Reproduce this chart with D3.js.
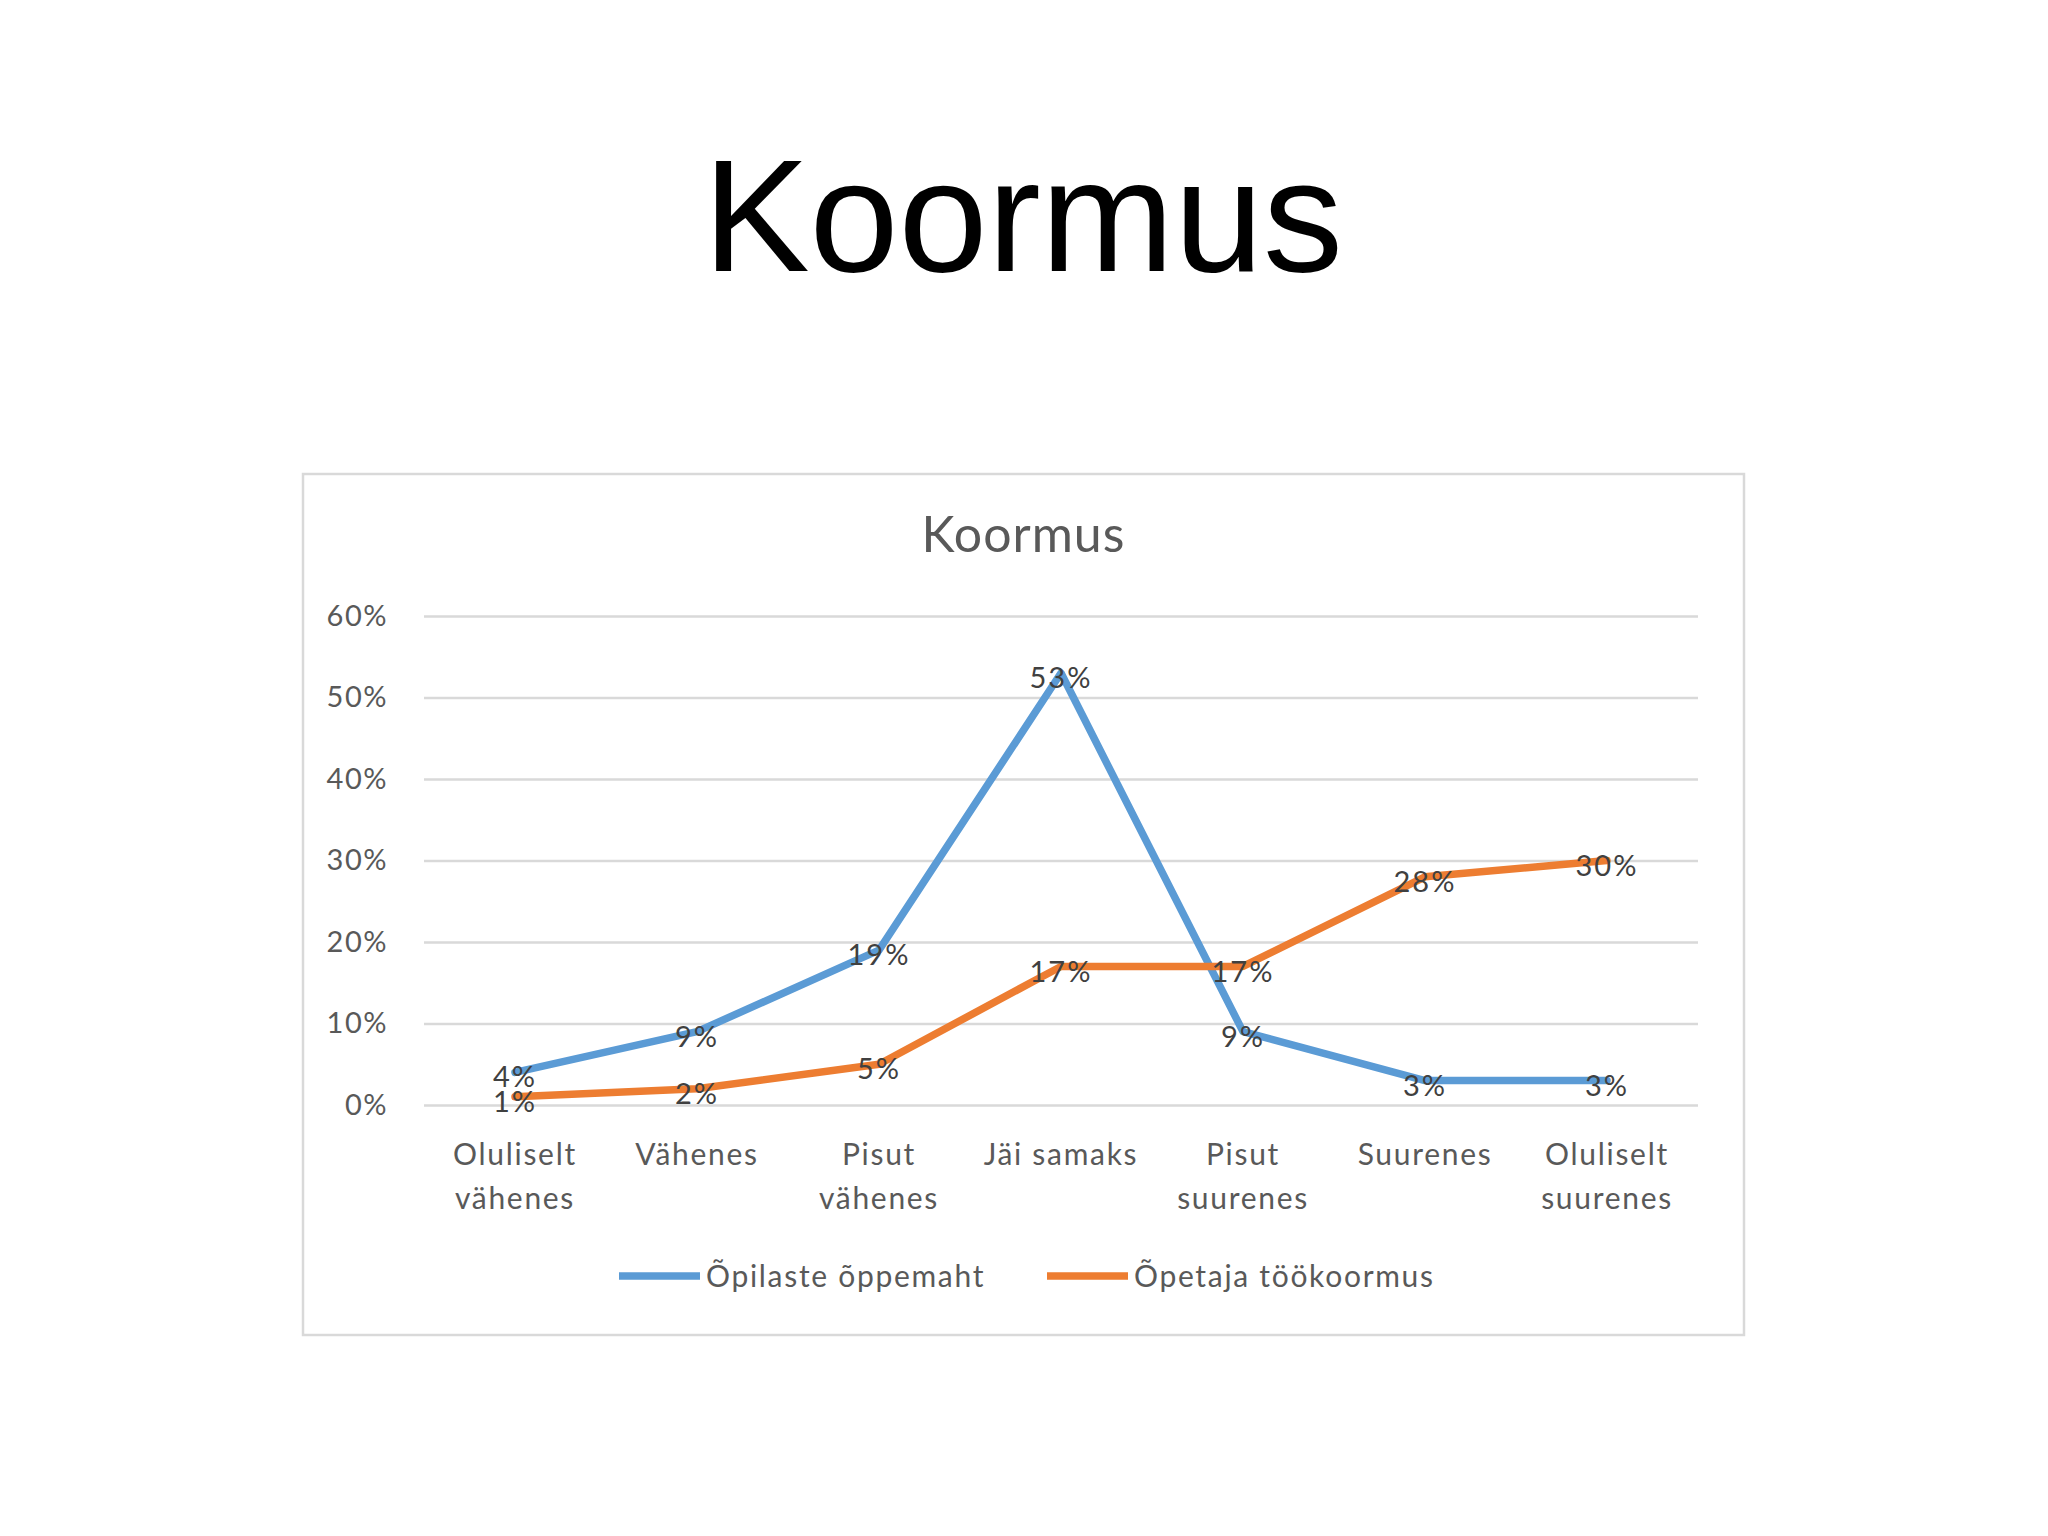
<!DOCTYPE html>
<html>
<head>
<meta charset="utf-8">
<script src="https://cdn.jsdelivr.net/npm/d3@7"></script>
<style>
  body { margin: 0; background: #fff; }
  svg { display: block; }
</style>
</head>
<body>
<svg id="slide"></svg>
<script>
const width = 2048, height = 1536;

// data
const categories = ["Oluliselt\nvähenes", "Vähenes", "Pisut\nvähenes", "Jäi samaks", "Pisut\nsuurenes", "Suurenes", "Oluliselt\nsuurenes"];
const seriesNames = ["Õpilaste õppemaht", "Õpetaja töökoormus"];
const opilased = [0.04, 0.09, 0.19, 0.53, 0.09, 0.03, 0.03];
const opetaja = [0.01, 0.02, 0.05, 0.17, 0.17, 0.28, 0.30];
const yTicks = [0, 0.1, 0.2, 0.3, 0.4, 0.5, 0.6];

const frame = { x: 303, y: 474, w: 1441, h: 861 };
const plot = { left: 424, right: 1698, top: 616, bottom: 1105 };
const chartFont = "Lato, 'Open Sans', sans-serif";

const svg = d3.select("#slide")
    .attr("width", width)
    .attr("height", height)
    .style("background", "#fff");

// slide title
svg.append("text")
    .attr("x", 1023)
    .attr("y", 271)
    .attr("text-anchor", "middle")
    .style("font-family", "'Liberation Sans', Arial, sans-serif")
    .style("font-size", "160px")
    .attr("fill", "#000")
    .text("Koormus");

// chart frame
svg.append("rect")
    .attr("x", frame.x)
    .attr("y", frame.y)
    .attr("width", frame.w)
    .attr("height", frame.h)
    .attr("fill", "#fff")
    .attr("stroke", "#d9d9d9")
    .attr("stroke-width", 2.5);

// chart title
svg.append("text")
    .attr("x", frame.x + frame.w / 2)
    .attr("y", 552)
    .attr("text-anchor", "middle")
    .style("font-family", chartFont)
    .style("font-size", "50px")
    .style("letter-spacing", "1px")
    .attr("fill", "#595959")
    .text("Koormus");

const xScale = d3.scaleBand()
    .domain(categories)
    .range([plot.left, plot.right]);

const yScale = d3.scaleLinear()
    .domain([0, 0.6])
    .range([plot.bottom, plot.top]);

const colorScale = d3.scaleOrdinal()
    .domain(seriesNames)
    .range(["#5b9bd5", "#ed7d31"]);

// gridlines + y labels
const yAxis = svg.append("g")
    .attr("transform", `translate(${plot.left}, 0)`)
    .call(d3.axisLeft(yScale)
        .tickValues(yTicks)
        .tickSize(-(plot.right - plot.left))
        .tickPadding(36)
        .tickFormat(d3.format(".0%")));
yAxis.select(".domain").remove();
yAxis.selectAll(".tick line")
    .attr("stroke", "#d9d9d9")
    .attr("stroke-width", 2.5);
yAxis.selectAll(".tick text")
    .style("font-family", chartFont)
    .style("font-size", "29px")
    .style("letter-spacing", "1.5px")
    .attr("fill", "#595959");

// category labels
const xAxis = svg.append("g")
    .attr("transform", `translate(0, ${plot.bottom})`)
    .call(d3.axisBottom(xScale).tickSize(0).tickPadding(0));
xAxis.select(".domain").remove();
xAxis.selectAll(".tick text").each(function(d) {
    const t = d3.select(this).text(null)
        .attr("y", 0)
        .attr("dy", null)
        .style("font-family", chartFont)
        .style("font-size", "30px")
        .style("letter-spacing", "1.7px")
        .attr("fill", "#595959");
    d.split("\n").forEach((line, i) => {
        t.append("tspan")
            .attr("x", 0)
            .attr("y", 60 + i * 44)
            .text(line);
    });
});

// lines
const line = d3.line()
    .x((d, i) => xScale(categories[i]) + xScale.bandwidth() / 2)
    .y(d => yScale(d));

const series = [
    { name: seriesNames[0], values: opilased },
    { name: seriesNames[1], values: opetaja }
];

svg.selectAll(".series")
    .data(series)
    .enter().append("path")
    .attr("class", "series")
    .attr("d", d => line(d.values))
    .attr("fill", "none")
    .attr("stroke", d => colorScale(d.name))
    .attr("stroke-width", 7.5)
    .attr("stroke-linejoin", "round")
    .attr("stroke-linecap", "round");

// data labels, centred on the points
series.forEach(function(s) {
    svg.selectAll(null)
        .data(s.values)
        .enter().append("text")
        .attr("x", (d, i) => xScale(categories[i]) + xScale.bandwidth() / 2)
        .attr("y", d => yScale(d))
        .attr("dy", "0.52em")
        .attr("text-anchor", "middle")
        .style("font-family", chartFont)
        .style("font-size", "29px")
        .style("letter-spacing", "2px")
        .attr("fill", "#404040")
        .text(d => d3.format(".0%")(d));
});

// legend
const legendItems = [
    { name: seriesNames[0], x: 619 },
    { name: seriesNames[1], x: 1047 }
];
const legend = svg.selectAll(".legend")
    .data(legendItems)
    .enter().append("g")
    .attr("class", "legend")
    .attr("transform", d => `translate(${d.x}, 1276)`);

legend.append("line")
    .attr("x1", 0)
    .attr("x2", 81)
    .attr("stroke", d => colorScale(d.name))
    .attr("stroke-width", 7.5);

legend.append("text")
    .attr("x", 87)
    .attr("dy", "0.35em")
    .style("font-family", chartFont)
    .style("font-size", "30px")
    .style("letter-spacing", "1.7px")
    .attr("fill", "#595959")
    .text(d => d.name);
</script>
</body>
</html>
